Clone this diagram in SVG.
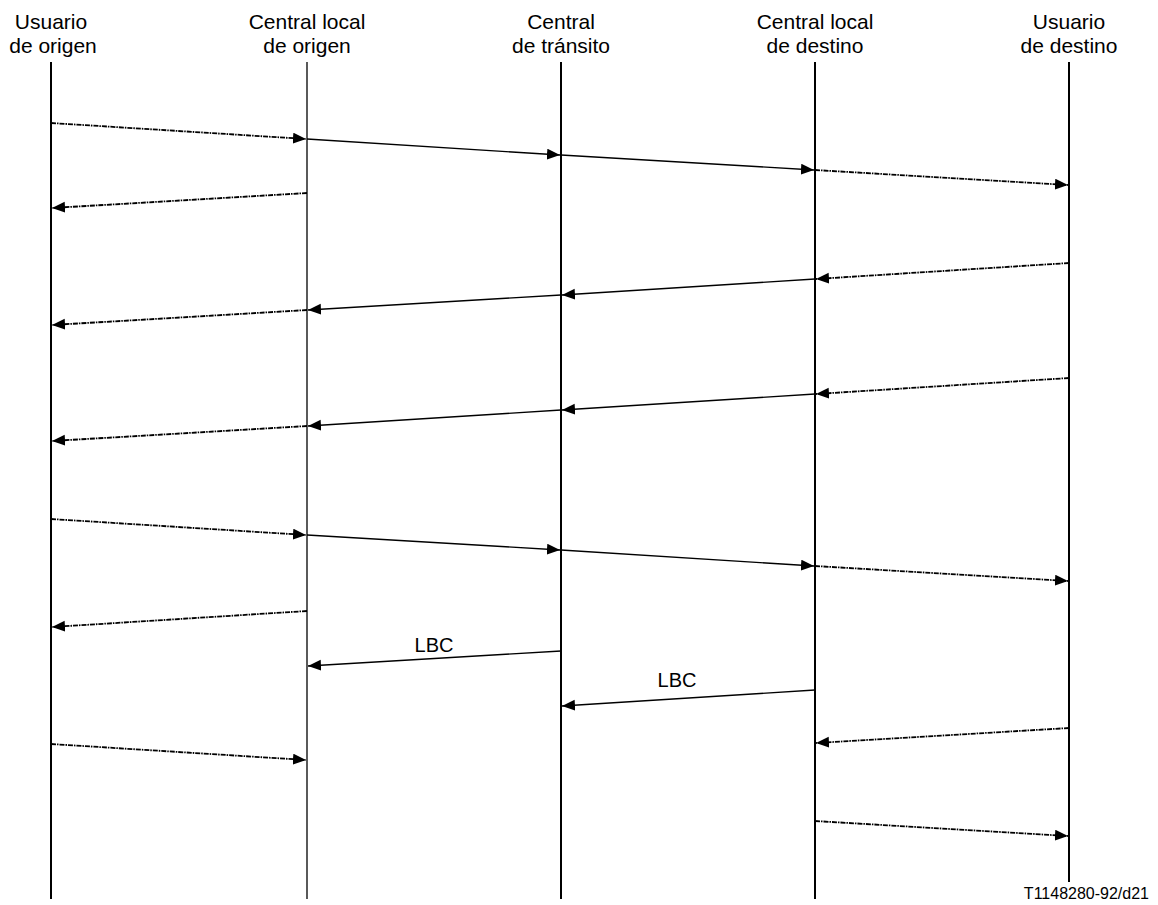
<svg xmlns="http://www.w3.org/2000/svg" width="1158" height="905" viewBox="0 0 1158 905">
<style>
text{font-family:"Liberation Sans",Arial,sans-serif;fill:#000}
.hd{font-size:21px;text-anchor:middle}
.lb{font-size:20px;text-anchor:middle}
.ft{font-size:16px;text-anchor:end}
.life{stroke:#000;stroke-width:2;fill:none}
.life1{stroke:#000;stroke-width:1.3;fill:none}
.sol{stroke:#000;stroke-width:1.4;fill:none;marker-end:url(#ah)}
.dot{stroke:#000;stroke-width:1.8;fill:none;stroke-dasharray:5 1 1.5 1;marker-end:url(#ah)}
</style>
<defs>
<marker id="ah" markerUnits="userSpaceOnUse" markerWidth="14" markerHeight="12" refX="13" refY="5.5" orient="auto">
<path d="M0,0 L13,5.5 L0,11 z" fill="#000"/>
</marker>
</defs>
<rect width="1158" height="905" fill="#fff"/>
<g id="n-usuario-origen">
<text class="hd" x="51" y="29">Usuario</text>
<text class="hd" x="53" y="53">de origen</text>
<line class="life" x1="51" y1="62" x2="51" y2="899"/>
</g>
<g id="n-central-local-origen">
<text class="hd" x="307" y="29">Central local</text>
<text class="hd" x="307" y="53">de origen</text>
<line class="life1" x1="307" y1="62" x2="307" y2="899"/>
</g>
<g id="n-central-transito">
<text class="hd" x="561" y="29">Central</text>
<text class="hd" x="561" y="53">de tránsito</text>
<line class="life" x1="561" y1="62" x2="561" y2="899"/>
</g>
<g id="n-central-local-destino">
<text class="hd" x="815" y="29">Central local</text>
<text class="hd" x="815" y="53">de destino</text>
<line class="life" x1="815" y1="62" x2="815" y2="899"/>
</g>
<g id="n-usuario-destino">
<text class="hd" x="1069" y="29">Usuario</text>
<text class="hd" x="1069" y="53">de destino</text>
<line class="life" x1="1069" y1="62" x2="1069" y2="882"/>
</g>
<g id="connectors">
<line class="dot" x1="51" y1="123" x2="306" y2="139"/>
<line class="sol" x1="307" y1="139" x2="560" y2="155"/>
<line class="sol" x1="561" y1="155" x2="814" y2="170"/>
<line class="dot" x1="815" y1="170" x2="1068" y2="185"/>
<line class="dot" x1="307" y1="193" x2="52" y2="208"/>
<line class="dot" x1="1069" y1="263" x2="816" y2="279"/>
<line class="sol" x1="815" y1="279" x2="562" y2="295"/>
<line class="sol" x1="561" y1="295" x2="308" y2="310"/>
<line class="dot" x1="307" y1="310" x2="52" y2="325"/>
<line class="dot" x1="1069" y1="378" x2="816" y2="394"/>
<line class="sol" x1="815" y1="394" x2="562" y2="410"/>
<line class="sol" x1="561" y1="410" x2="308" y2="426"/>
<line class="dot" x1="307" y1="426" x2="52" y2="441"/>
<line class="dot" x1="51" y1="519" x2="306" y2="535"/>
<line class="sol" x1="307" y1="535" x2="560" y2="550"/>
<line class="sol" x1="561" y1="550" x2="814" y2="566"/>
<line class="dot" x1="815" y1="566" x2="1068" y2="581"/>
<line class="dot" x1="307" y1="611" x2="52" y2="627"/>
<line class="sol" x1="561" y1="651" x2="308" y2="666"/>
<text class="lb" x="434" y="652">LBC</text>
<line class="sol" x1="815" y1="690" x2="562" y2="706"/>
<text class="lb" x="677" y="687">LBC</text>
<line class="dot" x1="1069" y1="728" x2="816" y2="743"/>
<line class="dot" x1="51" y1="744" x2="306" y2="760"/>
<line class="dot" x1="815" y1="821" x2="1068" y2="836"/>
</g>
<text class="ft" x="1149" y="899">T1148280-92/d21</text>
</svg>
